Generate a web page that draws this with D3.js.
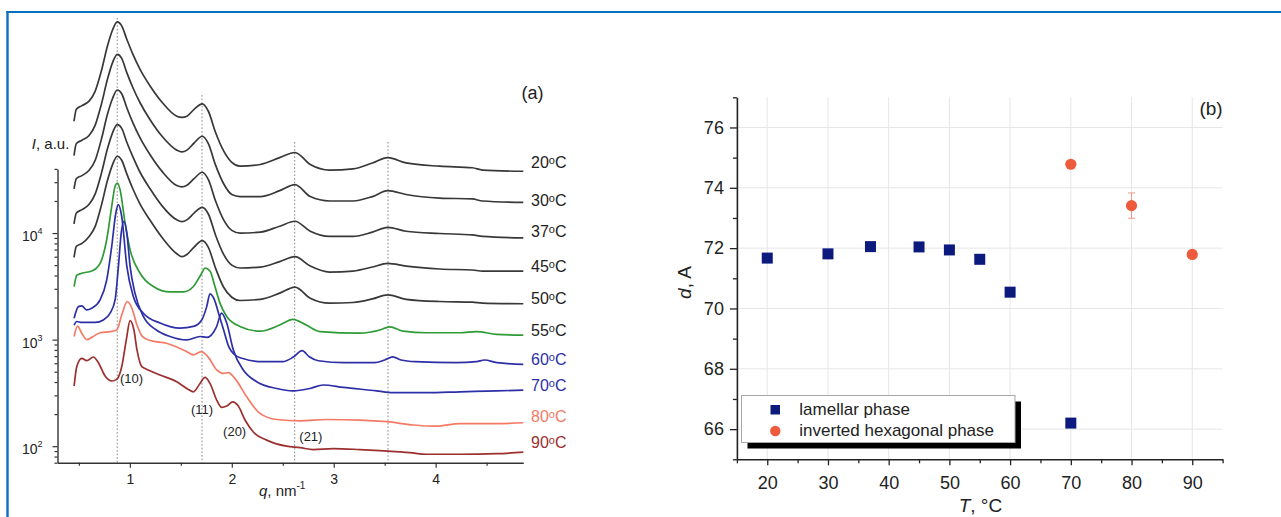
<!DOCTYPE html>
<html>
<head>
<meta charset="utf-8">
<script src="https://cdn.jsdelivr.net/npm/d3@7"></script>
<style>
  body { margin: 0; background: #fff; }
  svg { display: block; font-family: "Liberation Sans", Arial, Helvetica, sans-serif; }
</style>
</head>
<body>
<svg id="fig" width="1281" height="517"></svg>
<script>
// ---------- (a) SAXS profiles: [q (nm^-1), I (a.u.)], vertically stacked on a log scale ----------
const scan20 = [[0.452,1.12e5],[0.475,1.45e5],[0.53,1.57e5],[0.60,1.73e5],[0.66,2.15e5],[0.72,3.31e5],[0.78,5.69e5],[0.83,8.05e5],[0.876,9.6e5],[0.92,8.8e5],[0.97,6.58e5],[1.03,4.75e5],[1.10,3.44e5],[1.20,2.39e5],[1.32,1.67e5],[1.46,1.25e5],[1.51,1.22e5],[1.56,1.25e5],[1.63,1.45e5],[1.71,1.63e5],[1.77,1.39e5],[1.84,8.84e4],[1.92,5.9e4],[2.00,4.6e4],[2.08,4.24e4],[2.28,4.4e4],[2.47,5.1e4],[2.62,5.7e4],[2.77,4.4e4],[2.96,3.9e4],[3.19,4.0e4],[3.38,4.55e4],[3.53,5.1e4],[3.71,4.55e4],[4.04,4.24e4],[4.36,4.1e4],[4.46,3.9e4],[4.86,3.8e4]];
const scan30 = [[0.452,5.34e4],[0.475,6.92e4],[0.53,7.44e4],[0.60,8.23e4],[0.66,1.03e5],[0.72,1.61e5],[0.78,2.77e5],[0.83,3.97e5],[0.876,4.75e5],[0.92,4.36e5],[0.97,3.2e5],[1.03,2.31e5],[1.10,1.67e5],[1.20,1.15e5],[1.32,8.0e4],[1.46,6.0e4],[1.51,5.78e4],[1.56,6.0e4],[1.63,7.0e4],[1.71,8.1e4],[1.77,6.9e4],[1.84,4.36e4],[1.92,2.9e4],[2.00,2.3e4],[2.08,2.2e4],[2.28,2.2e4],[2.47,2.5e4],[2.62,2.85e4],[2.77,2.2e4],[2.96,2.0e4],[3.19,2.0e4],[3.38,2.2e4],[3.53,2.5e4],[3.71,2.3e4],[4.04,2.13e4],[4.36,2.09e4],[4.46,2.0e4],[4.86,1.94e4]];
const scan37 = [[0.452,2.6e4],[0.475,3.24e4],[0.53,3.46e4],[0.60,3.88e4],[0.66,4.82e4],[0.72,7.55e4],[0.78,1.3e5],[0.83,1.83e5],[0.876,2.2e5],[0.92,2.03e5],[0.97,1.5e5],[1.03,1.08e5],[1.10,7.83e4],[1.20,5.41e4],[1.32,3.75e4],[1.46,2.79e4],[1.51,2.71e4],[1.56,2.81e4],[1.63,3.24e4],[1.71,3.72e4],[1.77,3.17e4],[1.84,2.01e4],[1.92,1.33e4],[2.00,1.06e4],[2.08,1.0e4],[2.28,1.02e4],[2.47,1.16e4],[2.62,1.29e4],[2.77,1.04e4],[2.96,9.3e3],[3.19,9.3e3],[3.38,1.02e4],[3.53,1.13e4],[3.71,1.04e4],[4.04,9.9e3],[4.36,9.6e3],[4.46,9.3e3],[4.86,9.0e3]];
const scan45 = [[0.452,1.22e4],[0.475,1.54e4],[0.53,1.66e4],[0.60,1.86e4],[0.66,2.33e4],[0.72,3.61e4],[0.78,6.17e4],[0.83,8.72e4],[0.876,1.04e5],[0.92,9.6e4],[0.97,7.12e4],[1.03,5.19e4],[1.10,3.72e4],[1.20,2.59e4],[1.32,1.78e4],[1.46,1.33e4],[1.51,1.28e4],[1.56,1.33e4],[1.63,1.54e4],[1.71,1.74e4],[1.77,1.51e4],[1.84,9.6e3],[1.92,6.3e3],[2.00,5.0e3],[2.08,4.7e3],[2.28,4.8e3],[2.47,5.4e3],[2.62,6.0e3],[2.77,4.9e3],[2.96,4.3e3],[3.19,4.4e3],[3.38,4.8e3],[3.53,5.2e3],[3.71,4.9e3],[4.04,4.6e3],[4.36,4.5e3],[4.46,4.4e3],[4.86,4.4e3]];
const scan50 = [[0.452,5.9e3],[0.475,7.5e3],[0.53,8.0e3],[0.60,9.3e3],[0.66,1.155e4],[0.72,1.81e4],[0.78,3.11e4],[0.83,4.39e4],[0.876,5.26e4],[0.92,4.82e4],[0.97,3.59e4],[1.03,2.59e4],[1.10,1.87e4],[1.20,1.31e4],[1.32,8.97e3],[1.46,6.39e3],[1.51,6.0e3],[1.56,6.3e3],[1.63,7.38e3],[1.71,8.5e3],[1.77,7.33e3],[1.84,4.7e3],[1.92,3.1e3],[2.00,2.5e3],[2.08,2.33e3],[2.28,2.39e3],[2.47,2.73e3],[2.62,3.11e3],[2.77,2.45e3],[2.96,2.2e3],[3.19,2.23e3],[3.38,2.41e3],[3.53,2.63e3],[3.71,2.39e3],[4.04,2.28e3],[4.36,2.25e3],[4.46,2.2e3],[4.86,2.17e3]];
const scan55 = [[0.453,3.15e3],[0.479,4.0e3],[0.528,4.2e3],[0.626,4.4e3],[0.708,5.2e3],[0.773,8.7e3],[0.822,1.78e4],[0.855,2.75e4],[0.878,2.95e4],[0.904,2.55e4],[0.953,1.24e4],[1.002,7.0e3],[1.10,4.2e3],[1.23,3.15e3],[1.394,2.8e3],[1.525,2.8e3],[1.623,3.15e3],[1.705,4.2e3],[1.737,4.7e3],[1.786,4.4e3],[1.835,3.15e3],[1.884,2.2e3],[1.95,1.65e3],[2.08,1.33e3],[2.276,1.2e3],[2.47,1.37e3],[2.60,1.55e3],[2.73,1.37e3],[2.865,1.19e3],[3.257,1.15e3],[3.453,1.23e3],[3.55,1.32e3],[3.68,1.2e3],[3.91,1.16e3],[4.24,1.16e3],[4.40,1.19e3],[4.60,1.12e3],[4.86,1.1e3]];
const scan60 = [[0.453,1.59e3],[0.495,2.04e3],[0.528,2.07e3],[0.577,1.9e3],[0.626,1.97e3],[0.708,2.36e3],[0.773,3.64e3],[0.822,7.5e3],[0.862,1.54e4],[0.887,1.85e4],[0.92,1.43e4],[0.97,4.9e3],[1.034,2.54e3],[1.132,1.77e3],[1.296,1.43e3],[1.492,1.28e3],[1.623,1.33e3],[1.705,1.53e3],[1.754,2.04e3],[1.786,2.69e3],[1.83,2.36e3],[1.87,1.77e3],[1.92,1.23e3],[1.97,860],[2.02,733],[2.10,668],[2.30,621],[2.50,621],[2.60,682],[2.69,788],[2.76,690],[2.85,634],[3.10,608],[3.40,608],[3.50,644],[3.58,690],[3.66,644],[3.80,621],[4.20,608],[4.40,621],[4.48,644],[4.60,608],[4.86,586]];
const scan70 = [[0.453,1.37e3],[0.479,1.48e3],[0.528,1.45e3],[0.659,1.45e3],[0.74,1.53e3],[0.806,1.77e3],[0.855,2.36e3],[0.888,4.9e3],[0.915,1.0e4],[0.943,1.29e4],[0.97,1.0e4],[1.002,4.9e3],[1.05,2.73e3],[1.132,1.65e3],[1.26,1.23e3],[1.394,1.07e3],[1.558,993],[1.69,1.07e3],[1.754,1.05e3],[1.85,1.32e3],[1.90,1.77e3],[1.95,1.43e3],[2.015,800],[2.113,519],[2.244,403],[2.44,348],[2.60,331],[2.767,348],[2.897,375],[3.093,356],[3.42,331],[3.58,318],[3.91,318],[4.24,324],[4.60,330],[4.86,336]];
const scan80 = [[0.453,1.07e3],[0.486,1.34e3],[0.528,1.15e3],[0.577,1.0e3],[0.626,1.05e3],[0.708,1.16e3],[0.806,1.19e3],[0.871,1.23e3],[0.92,1.7e3],[0.975,2.28e3],[1.02,1.97e3],[1.07,1.37e3],[1.12,1.08e3],[1.20,980],[1.36,924],[1.558,771],[1.623,718],[1.70,771],[1.77,682],[1.852,519],[1.917,482],[1.966,490],[2.03,433],[2.146,291],[2.276,203],[2.44,178],[2.67,173],[2.93,178],[3.257,176],[3.52,170],[3.78,158],[4.00,154],[4.24,163],[4.60,163],[4.86,166]];
const scan90 = [[0.453,367],[0.479,557],[0.528,668],[0.577,634],[0.642,687],[0.691,608],[0.757,455],[0.822,409],[0.871,424],[0.92,557],[0.965,993],[1.002,1.51e3],[1.04,1.23e3],[1.07,800],[1.117,557],[1.149,537],[1.296,465],[1.46,403],[1.574,341],[1.623,324],[1.688,388],[1.737,442],[1.786,388],[1.852,271],[1.90,231],[1.95,238],[2.009,261],[2.064,238],[2.13,176],[2.211,136],[2.342,114],[2.538,100],[2.67,97],[2.80,93],[2.995,95],[3.257,93],[3.535,90],[3.747,87],[3.91,84],[4.24,84],[4.60,85],[4.86,88]];

const scanTemps = ["20", "30", "37", "45", "50", "55", "60", "70", "80", "90"];
const scans = [scan20, scan30, scan37, scan45, scan50, scan55, scan60, scan70, scan80, scan90];
const scanColors = ["#383838","#383838","#383838","#383838","#383838","#2f9b35","#2c2fa6","#2c2fa6","#f47a66","#9c2f2f"];
const labelColors = ["#222","#222","#222","#222","#222","#222","#2c2fa6","#2c2fa6","#f47a66","#9c2f2f"];

// lamellar reflection positions marked by dotted guides
const lamellarPeaks = [0.876, 1.708, 2.617, 3.533];
// hexagonal Miller indices and where they are written [q, I]
const millerText = ["(10)", "(11)", "(20)", "(21)"];
const millerPos = [[1.016, 430], [1.708, 222], [2.028, 137], [2.776, 124]];

const xTicksA = [1, 2, 3, 4];
const yTicksA = [100, 1000, 10000];

// ---------- (b) repeat distance vs temperature ----------
const tLamellar = [20, 30, 37, 45, 50, 55, 60, 70];
const dLamellar = [71.67, 71.81, 72.05, 72.04, 71.94, 71.63, 70.54, 66.2];
const tHexagonal = [70, 80, 90];
const dHexagonal = [74.78, 73.41, 71.79];
const errHexagonal = [0, 0.42, 0];
const seriesNames = ["lamellar phase", "inverted hexagonal phase"];
const xTicksB = [20, 30, 40, 50, 60, 70, 80, 90];
const yTicksB = [66, 68, 70, 72, 74, 76];

const W = 1281, H = 517;
const svg = d3.select("#fig");
const blue = "#0b6fbf";

// page frame
svg.append("line").attr("x1", 6.3).attr("x2", W).attr("y1", 12).attr("y2", 12)
  .attr("stroke", blue).attr("stroke-width", 2.2);
svg.append("line").attr("x1", 7.5).attr("x2", 7.5).attr("y1", 11).attr("y2", H)
  .attr("stroke", blue).attr("stroke-width", 2.4);

// ================= panel (a) =================
const xA = d3.scaleLinear().domain([0.29, 4.86]).range([57.5, 523.3]);
const yA = d3.scaleLog().domain([70, 40000]).range([462.7, 168.9]);
const gA = svg.append("g");

// dotted guides (top ends sit just above the uppermost profile)
const guideTop = [18, 95, 142, 142];
lamellarPeaks.forEach((q, i) => {
  gA.append("line")
    .attr("x1", xA(q)).attr("x2", xA(q))
    .attr("y1", guideTop[i]).attr("y2", yA.range()[0])
    .attr("stroke", "#7a7a7a").attr("stroke-width", 0.9)
    .attr("stroke-dasharray", "1.6,2");
});

const profile = d3.line()
  .x(d => xA(d[0])).y(d => yA(d[1]))
  .curve(d3.curveMonotoneX);

scans.forEach((s, i) => {
  gA.append("path").attr("d", profile(s))
    .attr("fill", "none").attr("stroke", scanColors[i])
    .attr("stroke-width", 1.7).attr("stroke-linejoin", "round");
});

// temperature labels at the right end of each profile
const labelY = [162.7, 200, 231.7, 266, 298, 330, 359, 385, 416, 442.7];
scanTemps.forEach((t, i) => {
  const tx = gA.append("text").attr("x", 531).attr("y", labelY[i] + 5.6)
    .attr("font-size", 16).attr("fill", labelColors[i]);
  tx.append("tspan").text(t);
  tx.append("tspan").attr("font-size", 11).attr("dy", -4).text("o");
  tx.append("tspan").attr("dy", 4).text("C");
});

millerText.forEach((m, i) => {
  gA.append("text").attr("x", xA(millerPos[i][0])).attr("y", yA(millerPos[i][1]))
    .attr("dy", "0.35em").attr("text-anchor", "middle")
    .attr("font-size", 13).attr("fill", "#222").text(m);
});

// x axis
const axA = gA.append("g").attr("transform", `translate(0,${yA.range()[0]})`);
axA.call(d3.axisBottom(xA).tickValues(xTicksA).tickSize(5).tickSizeOuter(0).tickFormat(d3.format("d")));
axA.append("g").call(d3.axisBottom(xA).tickValues([0.5, 1.5, 2.5, 3.5, 4.5]).tickSize(3).tickSizeOuter(0).tickFormat(""))
  .select(".domain").remove();
axA.selectAll(".tick text").attr("y", 21).attr("dy", 0).attr("font-size", 14).attr("fill", "#222")
  .attr("font-family", "Liberation Sans, Arial, sans-serif");

// y axis (log)
const minorA = [];
[10, 100, 1000, 10000].forEach(dec => {
  for (let k = 2; k <= 9; k++) {
    const v = dec * k;
    if (v >= 70 && v <= 40000) minorA.push(v);
  }
});
const ayA = gA.append("g").attr("transform", `translate(${xA.range()[0]},0)`);
ayA.call(d3.axisLeft(yA).tickValues(yTicksA).tickSize(5).tickSizeOuter(0).tickFormat(""));
ayA.append("g").call(d3.axisLeft(yA).tickValues(minorA).tickSize(3).tickSizeOuter(0).tickFormat(""))
  .select(".domain").remove();
ayA.selectAll(".tick").filter(d => yTicksA.includes(d)).each(function (d) {
  const t = d3.select(this).append("text")
    .attr("x", -15).attr("y", 7.5).attr("text-anchor", "end")
    .attr("font-size", 14).attr("fill", "#222");
  t.append("tspan").text("10");
  t.append("tspan").attr("font-size", 9).attr("dy", -7).text(Math.round(Math.log10(d)));
});

[axA, ayA].forEach(a => {
  a.selectAll("path.domain").attr("stroke", "#333").attr("stroke-width", 1.4);
  a.selectAll(".tick line").attr("stroke", "#333").attr("stroke-width", 1.2);
});

// axis titles
const yTitleA = gA.append("text").attr("x", 31.8).attr("y", 149).attr("font-size", 15).attr("fill", "#222");
yTitleA.append("tspan").attr("font-style", "italic").text("I");
yTitleA.append("tspan").text(", a.u.");

const xTitleA = gA.append("text").attr("x", 259).attr("y", 496).attr("font-size", 15).attr("fill", "#222");
xTitleA.append("tspan").attr("font-style", "italic").text("q");
xTitleA.append("tspan").text(", nm");
xTitleA.append("tspan").attr("font-size", 10).attr("dy", -7).text("-1");

gA.append("text").attr("x", 532.5).attr("y", 98.5).attr("text-anchor", "middle")
  .attr("font-size", 18).attr("fill", "#222").text("(a)");

// ================= panel (b) =================
const xB = d3.scaleLinear().domain([15, 95]).range([736.9, 1222.6]);
const yB = d3.scaleLinear().domain([65, 77]).range([459.3, 97.3]);
const gB = svg.append("g");

// grid
gB.append("g").selectAll("line").data(xTicksB).join("line")
  .attr("x1", d => xB(d)).attr("x2", d => xB(d))
  .attr("y1", yB.range()[1]).attr("y2", yB.range()[0])
  .attr("stroke", "#e6e6e6").attr("stroke-width", 1);
gB.append("g").selectAll("line").data(yTicksB).join("line")
  .attr("x1", xB.range()[0]).attr("x2", xB.range()[1])
  .attr("y1", d => yB(d)).attr("y2", d => yB(d))
  .attr("stroke", "#e6e6e6").attr("stroke-width", 1);

// axes
const axB = gB.append("g").attr("transform", `translate(0,${yB.range()[0]})`);
axB.call(d3.axisBottom(xB).tickValues(xTicksB).tickSize(6).tickSizeOuter(0).tickFormat(d3.format("d")));
axB.append("g").call(d3.axisBottom(xB).tickValues(d3.range(15, 96, 10)).tickSize(4).tickSizeOuter(0).tickFormat(""))
  .select(".domain").remove();
axB.selectAll(".tick text").attr("y", 29.5).attr("dy", 0).attr("font-size", 18).attr("fill", "#222")
  .attr("font-family", "Liberation Sans, Arial, sans-serif");

const ayB = gB.append("g").attr("transform", `translate(${xB.range()[0]},0)`);
ayB.call(d3.axisLeft(yB).tickValues(yTicksB).tickSize(7).tickSizeOuter(0).tickPadding(6).tickFormat(d3.format("d")));
ayB.append("g").call(d3.axisLeft(yB).tickValues(d3.range(65, 78, 2)).tickSize(4).tickSizeOuter(0).tickFormat(""))
  .select(".domain").remove();
ayB.selectAll(".tick text").attr("font-size", 18).attr("fill", "#222")
  .attr("font-family", "Liberation Sans, Arial, sans-serif");

[axB, ayB].forEach(a => {
  a.selectAll("path.domain").attr("stroke", "#222").attr("stroke-width", 1.6);
  a.selectAll(".tick line").attr("stroke", "#222").attr("stroke-width", 1.3);
});

// error bars
const hexColor = "#ee5a3c", lamColor = "#0c1a7e";
tHexagonal.forEach((t, i) => {
  const e = errHexagonal[i];
  if (e > 0) {
    const x = xB(t);
    gB.append("line").attr("x1", x).attr("x2", x).attr("y1", yB(dHexagonal[i] - e)).attr("y2", yB(dHexagonal[i] + e))
      .attr("stroke", "#f39a86").attr("stroke-width", 1);
    [dHexagonal[i] - e, dHexagonal[i] + e].forEach(v => {
      gB.append("line").attr("x1", x - 3.5).attr("x2", x + 3.5).attr("y1", yB(v)).attr("y2", yB(v))
        .attr("stroke", "#f39a86").attr("stroke-width", 1);
    });
  }
});

// markers
const sq = 11;
gB.append("g").selectAll("rect").data(tLamellar).join("rect")
  .attr("x", (d) => xB(d) - sq / 2)
  .attr("y", (d, i) => yB(dLamellar[i]) - sq / 2)
  .attr("width", sq).attr("height", sq).attr("fill", lamColor);
gB.append("g").selectAll("circle").data(tHexagonal).join("circle")
  .attr("cx", d => xB(d)).attr("cy", (d, i) => yB(dHexagonal[i]))
  .attr("r", 5.6).attr("fill", hexColor);

// legend with drop shadow
const lg = gB.append("g");
lg.append("rect").attr("x", 747.5).attr("y", 401.5).attr("width", 273.5).attr("height", 47).attr("fill", "#000");
lg.append("rect").attr("x", 741.5).attr("y", 395.5).attr("width", 273.5).attr("height", 47)
  .attr("fill", "#fff").attr("stroke", "#a8a8a8").attr("stroke-width", 1);
lg.append("rect").attr("x", 770.5).attr("y", 405).attr("width", 9.5).attr("height", 9.5).attr("fill", lamColor);
lg.append("circle").attr("cx", 775.3).attr("cy", 431).attr("r", 5.2).attr("fill", hexColor);
lg.append("text").attr("x", 799.3).attr("y", 415).attr("font-size", 17).attr("fill", "#222").text(seriesNames[0]);
lg.append("text").attr("x", 799.3).attr("y", 435.5).attr("font-size", 17).attr("fill", "#222").text(seriesNames[1]);

// titles
const yTitleB = gB.append("text").attr("transform", "translate(690.5,282.5) rotate(-90)")
  .attr("text-anchor", "middle").attr("font-size", 19).attr("fill", "#222");
yTitleB.append("tspan").attr("font-style", "italic").text("d");
yTitleB.append("tspan").text(", A");

const xTitleB = gB.append("text").attr("x", 980.4).attr("y", 512).attr("text-anchor", "middle")
  .attr("font-size", 19).attr("fill", "#222");
xTitleB.append("tspan").attr("font-style", "italic").text("T");
xTitleB.append("tspan").text(", °C");

gB.append("text").attr("x", 1211).attr("y", 114.5).attr("text-anchor", "middle")
  .attr("font-size", 19).attr("fill", "#222").text("(b)");
</script>
</body>
</html>
